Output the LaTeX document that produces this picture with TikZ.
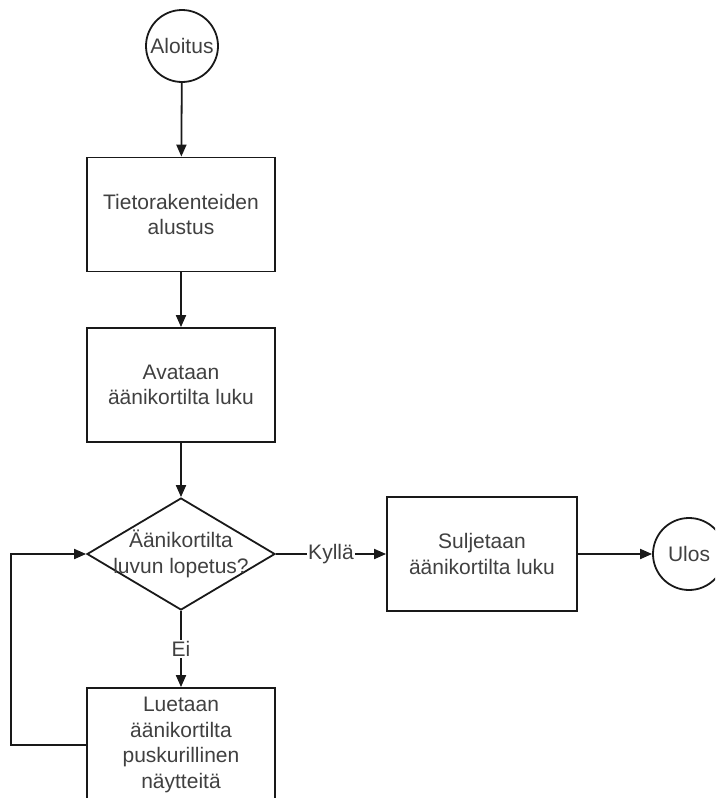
\documentclass[tikz,border=0pt]{standalone}
\usepackage{fontspec}
\setmainfont{Liberation Sans}
\usetikzlibrary{shapes.geometric,arrows.meta}
\begin{document}
\begin{tikzpicture}[x=1pt,y=-1pt,
  line width=1.8pt,
  font=\fontsize{21}{25.5}\selectfont,
  txt/.style={text=black!75},
  proc/.style={draw=black!90, rectangle, minimum width=188pt, minimum height=114pt,
    inner sep=0pt, align=center, text=black!75},
  term/.style={draw=black!90, circle, minimum size=72pt, inner sep=0pt, text=black!75},
  decide/.style={draw=black!90, diamond, minimum width=188pt, minimum height=112pt,
    inner sep=0pt},
  flow/.style={draw=black!90, -{Triangle[length=12pt,width=10pt]}},
  lbl/.style={fill=white, inner sep=1pt, text=black!75}]
\path[use as bounding box, clip] (0,0) rectangle (715,798);

% main column
\node[term] (start) at (182,46) {Aloitus};
\node[proc] (init) at (181,214.5) {Tietorakenteiden\\alustus};
\node[proc] (open) at (181,385) {Avataan\\äänikortilta luku};
\node[decide, label={[txt,align=center]center:Äänikortilta\\luvun lopetus?}] (test) at (181,554) {};
\node[proc] (read) at (181,745) {Luetaan\\äänikortilta\\puskurillinen\\näytteitä};

% exit branch
\node[proc, minimum width=190pt] (close) at (482,554) {Suljetaan\\äänikortilta luku};
\node[term] (exit) at (689,554) {Ulos};

% connectors
\draw[flow] (start) -- (init);
\draw[flow] (init) -- (open);
\draw[flow] (open) -- (test);
\draw[flow] (test) -- node[lbl] {Kyllä} (close);
\draw[flow] (close) -- (exit);
\draw[flow] (test) -- node[lbl] {Ei} (read);
\draw[flow] (read.west) -- ++(-75,0) |- (test.west);
\end{tikzpicture}
\end{document}
